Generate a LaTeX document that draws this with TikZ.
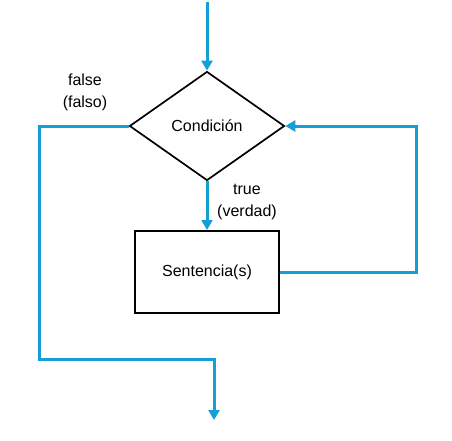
\documentclass[tikz,border=0pt]{standalone}
\usepackage{fontspec}
\setmainfont{Liberation Sans}
\usetikzlibrary{shapes.geometric, arrows.meta, positioning}
\definecolor{flowblue}{RGB}{22,158,214}

\begin{document}
\begin{tikzpicture}[
    x=1pt, y=-1pt,
    decision/.style={diamond, draw, line width=1.7pt, minimum width=155pt, minimum height=109pt, inner sep=0pt, text centered, font=\fontsize{16}{19}\selectfont},
    process/.style={rectangle, draw, line width=2pt, minimum width=144pt, minimum height=82pt, text centered, font=\fontsize{16}{19}\selectfont},
    label/.style={font=\fontsize{16}{22}\selectfont, align=center, inner sep=0pt},
    line/.style={flowblue, line width=3pt},
    arrow/.style={line, -{Triangle[length=10pt, width=11pt]}},
  ]
    \useasboundingbox (0,0) rectangle (452,440);

    % Nodes
    \node[decision] (cond) at (207, 126) {Condición};
    \node[process] (stmt) at (207, 272) {Sentencia(s)};
    \coordinate (entry) at (207, 2);
    \coordinate (exit) at (214, 420);

    % Labels
    \node[label] (lfalse) at (85, 92) {false\\(falso)};
    \node[label] (ltrue) at (247, 202) {true\\(verdad)};

    % Connectors
    \draw[arrow] (entry) -- (cond.north);
    \draw[arrow] (cond.south) -- (stmt.north);
    \draw[arrow] (stmt.east) -| (416, 126) -- (cond.east);
    \draw[arrow] (cond.west) -| (39, 359) -| (exit);

  \end{tikzpicture}
\end{document}
